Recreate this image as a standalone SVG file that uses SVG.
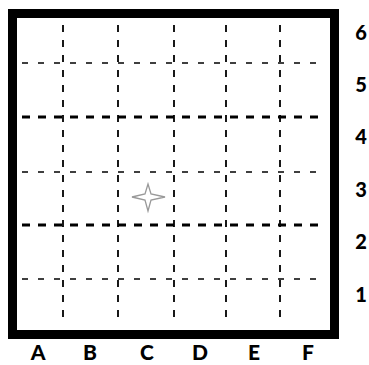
<svg xmlns="http://www.w3.org/2000/svg" width="369" height="365" viewBox="0 0 369 365">
<style>
.thin{stroke:#000;stroke-width:1.6;stroke-dasharray:6 10;fill:none}
.thick{stroke:#000;stroke-width:3;stroke-dasharray:8 8;fill:none}
.vert{stroke:#000;stroke-width:1.8;stroke-dasharray:7 8;fill:none}
.lbl{font-family:Lato,"Liberation Sans",Arial,sans-serif;font-weight:900;font-size:20px;fill:#000;text-anchor:middle}
.col{font-size:21px}
</style>
<rect x="0" y="0" width="369" height="365" fill="#fff"/>
<g id="board">
<rect x="12.5" y="13.5" width="322" height="321" fill="#fff" stroke="#000" stroke-width="9"/>
</g>
<g id="connectors">
<line class="vert" x1="63" y1="25" x2="63" y2="324"/>
<line class="vert" x1="118" y1="25" x2="118" y2="324"/>
<line class="vert" x1="174" y1="25" x2="174" y2="324"/>
<line class="vert" x1="226" y1="25" x2="226" y2="324"/>
<line class="vert" x1="280" y1="25" x2="280" y2="324"/>
<line class="thin" x1="22" y1="63" x2="324" y2="63"/>
<line class="thick" x1="22" y1="117" x2="324" y2="117"/>
<line class="thin" x1="22" y1="172" x2="324" y2="172"/>
<line class="thick" x1="22" y1="225" x2="324" y2="225"/>
<line class="thin" x1="22" y1="279" x2="324" y2="279"/>
</g>
<g id="star">
<path d="M148,184 L151,194 L165,197 L151,200 L148,211 L145,200 L132,197 L145,194 Z" fill="#fff" stroke="#999" stroke-width="1.3"/>
</g>
<g id="labels">
<text class="lbl" x="361" y="40">6</text>
<text class="lbl" x="361" y="92">5</text>
<text class="lbl" x="361" y="144">4</text>
<text class="lbl" x="361" y="197">3</text>
<text class="lbl" x="361" y="249">2</text>
<text class="lbl" x="361" y="302">1</text>
<text class="lbl col" x="38" y="360">A</text>
<text class="lbl col" x="90" y="360">B</text>
<text class="lbl col" x="147" y="360">C</text>
<text class="lbl col" x="200" y="360">D</text>
<text class="lbl col" x="254" y="360">E</text>
<text class="lbl col" x="308" y="360">F</text>
</g>
</svg>
